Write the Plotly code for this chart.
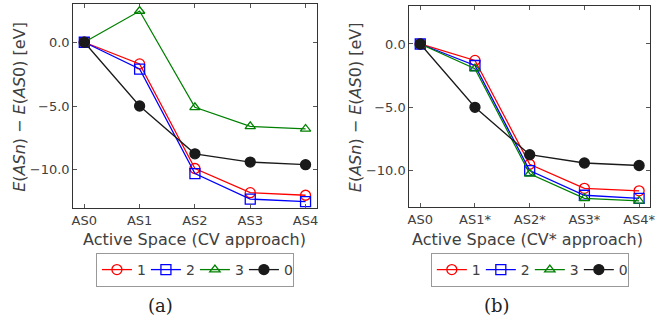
import plotly.graph_objects as go

W, H = 659, 322

cats_a = ["AS0", "AS1", "AS2", "AS3", "AS4"]
cats_b = ["AS0", "AS1*", "AS2*", "AS3*", "AS4*"]

a_1 = [0.0, -1.7, -9.9, -11.8, -12.0]
a_2 = [0.0, -2.1, -10.3, -12.3, -12.5]
a_3 = [0.0, 2.45, -5.1, -6.6, -6.8]
a_0 = [0.0, -5.0, -8.75, -9.4, -9.6]

b_1 = [0.0, -1.3, -9.5, -11.4, -11.6]
b_2 = [0.0, -1.7, -10.0, -11.95, -12.2]
b_3 = [0.0, -1.95, -10.25, -12.2, -12.4]
b_0 = [0.0, -5.0, -8.75, -9.4, -9.6]

yticks = [0, -5, -10]
yticklabels = ["0.0", "\u22125.0", "\u221210.0"]
series_names = ["1", "2", "3", "0"]

colors = ["#ff0000", "#0000ff", "#008000", "#1a1a1a"]
symbols = ["circle-open", "square-open", "triangle-up-open", "circle"]
sizes = [10, 10, 9, 10]

FONT = "DejaVu Sans"
TXT = "#404040"

fig = go.Figure()

for vals_list, cats, xa, ya, lg in [
    ([a_1, a_2, a_3, a_0], cats_a, "x", "y", "legend"),
    ([b_1, b_2, b_3, b_0], cats_b, "x2", "y2", "legend2"),
]:
    for i, vals in enumerate(vals_list):
        fig.add_trace(go.Scatter(
            x=cats, y=vals, name=series_names[i], mode="lines+markers",
            line=dict(color=colors[i], width=1.3),
            marker=dict(symbol=symbols[i], size=sizes[i], color=colors[i],
                        line=dict(color=colors[i], width=1.3)),
            xaxis=xa, yaxis=ya, legend=lg,
        ))

def px(x):
    return x / W

def py(y):
    return 1 - y / H

axis_common = dict(
    showline=True, linecolor="#333333", linewidth=1, mirror="ticks",
    ticks="inside", ticklen=4, tickcolor="#555555", showgrid=False,
    zeroline=False, tickfont=dict(family=FONT, size=13, color=TXT),
)

legend_common = dict(
    orientation="h", y=py(270), xanchor="center", yanchor="middle",
    bordercolor="#999999", borderwidth=1,
    font=dict(family=FONT, size=14, color=TXT), itemwidth=30,
    entrywidthmode="pixels", entrywidth=4,
    tracegroupgap=0, bgcolor="white",
)

fig.update_layout(
    width=W, height=H, margin=dict(l=0, r=0, t=0, b=0),
    paper_bgcolor="white", plot_bgcolor="white",
    xaxis=dict(domain=[px(72), px(318)], anchor="y", type="category",
               range=[-0.2, 4.2], **axis_common),
    yaxis=dict(domain=[py(208), py(4)], anchor="x", range=[-13, 3],
               tickvals=yticks, ticktext=yticklabels, **axis_common),
    xaxis2=dict(domain=[px(411.7), px(655)], anchor="y2", type="category",
                range=[-0.2, 4.2], **axis_common),
    yaxis2=dict(domain=[py(207.3), py(6)], anchor="x2", range=[-12.9, 3],
                tickvals=yticks, ticktext=yticklabels, **axis_common),
    legend=dict(x=px(195), **legend_common),
    legend2=dict(x=px(533.5), **legend_common),
    showlegend=True,
)

ytitle = "<i>E</i>(<i>ASn</i>) \u2212 <i>E</i>(<i>AS</i>0) [eV]"
annots = [
    dict(text=ytitle, x=px(17), y=py(107), textangle=-90),
    dict(text=ytitle, x=px(357), y=py(107), textangle=-90),
    dict(text="Active Space (CV approach)", x=px(195), y=py(239)),
    dict(text="Active Space (CV* approach)", x=px(531), y=py(239)),
]
for a in annots:
    fig.add_annotation(xref="paper", yref="paper", showarrow=False,
                       xanchor="center", yanchor="middle",
                       font=dict(family=FONT, size=16, color=TXT), **a)

for t, xc in [("(a)", 160), ("(b)", 500)]:
    fig.add_annotation(xref="paper", yref="paper", showarrow=False,
                       x=px(xc), y=py(305), xanchor="center", yanchor="middle",
                       text=t, font=dict(family="DejaVu Serif", size=18, color="#222222"))

fig.write_html("out.html", config={"displayModeBar": False},
               post_script="document.body.style.margin='0';")
